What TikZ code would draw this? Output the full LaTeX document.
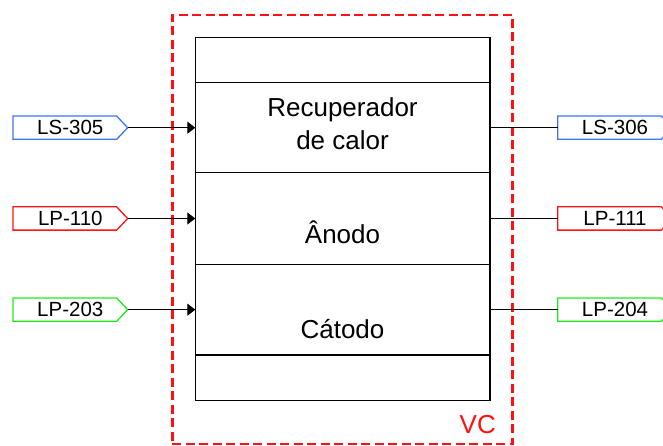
\documentclass[tikz,border=0pt]{standalone}
\usepackage{fontspec}
\setmainfont{Liberation Sans}
\usepackage{tikz}
\usetikzlibrary{arrows.meta}

\definecolor{vcred}{RGB}{255,17,17}
\definecolor{lsblue}{RGB}{64,116,240}
\definecolor{lpred}{RGB}{255,20,20}
\definecolor{lpgreen}{RGB}{30,235,30}

\begin{document}
\begin{tikzpicture}[x=1pt, y=-1pt,
    row/.style={draw, line width=1.2pt, minimum width=294.7pt, inner sep=0pt, outer sep=0pt},
    lbl/.style={font=\fontsize{26}{32.7}\selectfont, inner sep=0pt},
    tag/.style={font=\fontsize{20.5}{24}\selectfont, minimum width=114.7pt, minimum height=23.3pt, inner sep=0pt, outer sep=0pt},
    flow/.style={line width=1.2pt, -{Triangle[length=8pt, width=12pt]}},
    plain/.style={line width=1.2pt},
    vcframe/.style={draw=vcred, line width=2.4pt, dash pattern=on 9pt off 4.5pt, minimum width=340pt, minimum height=429pt, inner sep=0pt}]
  \useasboundingbox (0,0) rectangle (663,446);
  \clip (0,0) rectangle (663,446);

  % the volume of control
  \node[vcframe] (vc) at (342.3,229.5) {};
  \node[lbl, text=vcred, anchor=base east] (vclbl) at (496,433.3) {VC};

  % the stack, five rows
  \node[row, minimum height=45pt]   (hdr) at (342.65,60.2) {};
  \node[row, minimum height=90pt]   (rec) at (342.65,127.7) {};
  \node[row, minimum height=91.6pt] (ano) at (342.65,218.5) {};
  \node[row, minimum height=90.7pt] (cat) at (342.65,309.65) {};
  \node[row, minimum height=45.3pt] (ftr) at (342.65,377.65) {};

  \node[lbl, align=center, anchor=north] (reclbl) at (342.5,97.5) {Recuperador\\de calor};
  \node[lbl, anchor=base] (anolbl) at (342.5,243.3) {Ânodo};
  \node[lbl, anchor=base] (catlbl) at (342.5,338.3) {Cátodo};

  % the tags, in and out
  \node[tag] (ls305) at (70.3,127.7) {LS-305};
  \node[tag] (lp110) at (70.3,218.5) {LP-110};
  \node[tag] (lp203) at (70.3,309.65) {LP-203};

  \node[tag] (ls306) at (615,127.7) {LS-306};
  \node[tag] (lp111) at (615,218.5) {LP-111};
  \node[tag] (lp204) at (615,309.65) {LP-204};

  % Draw the tag outlines
  \draw[lsblue, line width=1.3pt] (ls305.north west) -- ([xshift=-11pt]ls305.north east) -- (ls305.east) -- ([xshift=-11pt]ls305.south east) -- (ls305.south west) -- cycle;
  \draw[lpred, line width=1.3pt] (lp110.north west) -- ([xshift=-11pt]lp110.north east) -- (lp110.east) -- ([xshift=-11pt]lp110.south east) -- (lp110.south west) -- cycle;
  \draw[lpgreen, line width=1.3pt] (lp203.north west) -- ([xshift=-11pt]lp203.north east) -- (lp203.east) -- ([xshift=-11pt]lp203.south east) -- (lp203.south west) -- cycle;

  \draw[lsblue, line width=1.3pt] (ls306.north west) -- ([xshift=-11pt]ls306.north east) -- (ls306.east) -- ([xshift=-11pt]ls306.south east) -- (ls306.south west) -- cycle;
  \draw[lpred, line width=1.3pt] (lp111.north west) -- ([xshift=-11pt]lp111.north east) -- (lp111.east) -- ([xshift=-11pt]lp111.south east) -- (lp111.south west) -- cycle;
  \draw[lpgreen, line width=1.3pt] (lp204.north west) -- ([xshift=-11pt]lp204.north east) -- (lp204.east) -- ([xshift=-11pt]lp204.south east) -- (lp204.south west) -- cycle;

  % Draw the streams
  \draw[flow] (ls305.east) -- (rec.west);
  \draw[flow] (lp110.east) -- (ano.west);
  \draw[flow] (lp203.east) -- (cat.west);

  \draw[plain] (rec.east) -- (ls306.west);
  \draw[plain] (ano.east) -- (lp111.west);
  \draw[plain] (cat.east) -- (lp204.west);
\end{tikzpicture}
\end{document}
